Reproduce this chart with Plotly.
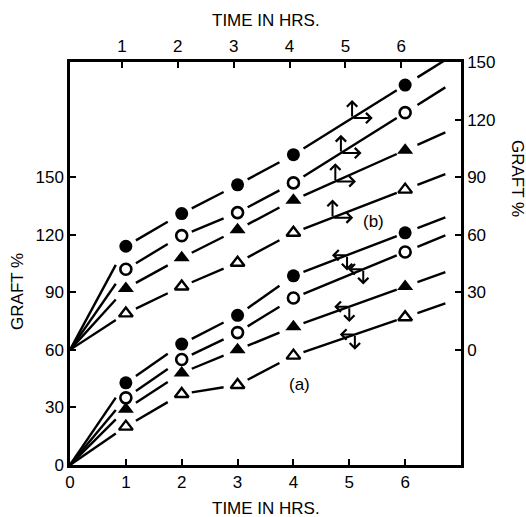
import numpy as np
import plotly.graph_objects as go

# ---------------- data ----------------
hours = [0, 1, 2, 3, 4, 6]
bottom_ticks = [0, 1, 2, 3, 4, 5, 6]
top_ticks = [1, 2, 3, 4, 5, 6]
left_ticks = [0, 30, 60, 90, 120, 150]
right_ticks = [0, 30, 60, 90, 120, 150]

# curve set (a): read on left axis (GRAFT %) vs bottom axis
a_filled_circle = [0, 42.8, 63, 78, 98.6, 121]
a_open_circle = [0, 35, 55, 69, 87, 111]
a_filled_tri = [0, 29, 48, 60, 72, 93]
a_open_tri = [0, 20, 37, 41.7, 57, 77]

# curve set (b): read on right axis (GRAFT %) vs top axis
b_filled_circle = [0, 54, 71, 86, 101.7, 138]
b_open_circle = [0, 42, 59.5, 71.5, 87, 123.6]
b_filled_tri = [0, 32, 48, 62.6, 78, 104]
b_open_tri = [0, 19, 33, 45.4, 61, 83.5]

# where the axis-direction arrow glyphs sit along each curve (hours)
glyph_a_t = [4.96, 5.25, 5.0, 5.1]
glyph_b_t = [5.05, 4.85, 4.75, 4.7]

# ---------------- helpers ----------------
def dash_segments(t, v):
    xs, ys = [], []
    for i in range(len(t) - 1):
        t0, t1 = t[i], t[i + 1]
        span = t1 - t0
        start = t0 if i == 0 else t0 + 0.18
        if i == 0:
            end = t1 - 0.18
        elif span == 1:
            end = t1 - 0.25
        else:
            end = t1 - 0.15
        for tt in (start, end):
            xs.append(tt)
            ys.append(v[i] + (v[i + 1] - v[i]) * (tt - t0) / span)
        xs.append(None)
        ys.append(None)
    slope = (v[-1] - v[-2]) / (t[-1] - t[-2])
    for tt in (t[-1] + 0.22, t[-1] + 0.72):
        xs.append(tt)
        ys.append(v[-1] + slope * (tt - t[-1]))
    return xs, ys


styles = [
    dict(symbol="circle", size=13, color="black", line=dict(width=0)),
    dict(symbol="circle-open", size=11, color="black", line=dict(width=2.6, color="black")),
    dict(symbol="triangle-up", size=14, color="black", line=dict(width=0)),
    dict(symbol="triangle-up-open", size=12, color="black", line=dict(width=2.4, color="black")),
]

FONT = "Liberation Sans, Arial, Helvetica, sans-serif"
fig = go.Figure()

set_a = [a_filled_circle, a_open_circle, a_filled_tri, a_open_tri]
set_b = [b_filled_circle, b_open_circle, b_filled_tri, b_open_tri]

for series, st in zip(set_a, styles):
    xs, ys = dash_segments(hours, series)
    fig.add_trace(go.Scatter(x=xs, y=ys, mode="lines", line=dict(color="black", width=2.4),
                             xaxis="x", yaxis="y", showlegend=False, hoverinfo="skip"))
    fig.add_trace(go.Scatter(x=hours[1:], y=series[1:], mode="markers", marker=st,
                             xaxis="x", yaxis="y", showlegend=False))

for series, st in zip(set_b, styles):
    xs, ys = dash_segments(hours, series)
    fig.add_trace(go.Scatter(x=xs, y=ys, mode="lines", line=dict(color="black", width=2.4),
                             xaxis="x", yaxis="y2", showlegend=False, hoverinfo="skip"))
    fig.add_trace(go.Scatter(x=hours[1:], y=series[1:], mode="markers", marker=st,
                             xaxis="x", yaxis="y2", showlegend=False))

# invisible trace so the top time axis is drawn
fig.add_trace(go.Scatter(x=hours[1:], y=b_filled_circle[1:], mode="markers",
                         marker=dict(opacity=0), xaxis="x2", yaxis="y2",
                         showlegend=False, hoverinfo="skip"))

annotations = []
ARW = dict(showarrow=True, arrowhead=4, arrowsize=1.0, arrowwidth=2, arrowcolor="black", text="")

# (b) curves: up arrow (top axis) + right arrow (right axis)
for series, tg in zip(set_b, glyph_b_t):
    yc = float(np.interp(tg, hours, series))
    annotations.append(dict(x=tg, y=yc + 9.5, ax=tg, ay=yc, xref="x", yref="y2",
                            axref="x", ayref="y2", **ARW))
    annotations.append(dict(x=tg + 0.37, y=yc, ax=tg, ay=yc, xref="x", yref="y2",
                            axref="x", ayref="y2", **ARW))

# (a) curves: left arrow (left axis) + down arrow (bottom axis)
for series, tg in zip(set_a, glyph_a_t):
    yc = float(np.interp(tg, hours, series))
    annotations.append(dict(x=tg - 0.27, y=yc, ax=tg, ay=yc, xref="x", yref="y",
                            axref="x", ayref="y", **ARW))
    annotations.append(dict(x=tg, y=yc - 8, ax=tg, ay=yc, xref="x", yref="y",
                            axref="x", ayref="y", **ARW))

TXT = dict(showarrow=False, xanchor="center", yanchor="middle",
           font=dict(family=FONT, size=17, color="black"))
annotations += [
    dict(x=4.1, y=41.7, xref="x", yref="y", text="(a)", **TXT),
    dict(x=5.43, y=67, xref="x", yref="y2", text="(b)", **TXT),
    dict(x=0.501, y=-0.107, xref="paper", yref="paper", text="TIME IN HRS.", **TXT),
    dict(x=0.501, y=1.102, xref="paper", yref="paper", text="TIME IN HRS.", **TXT),
    dict(x=-0.133, y=0.432, xref="paper", yref="paper", text="GRAFT %", textangle=-90, **TXT),
    dict(x=1.146, y=0.712, xref="paper", yref="paper", text="GRAFT %", textangle=90, **TXT),
]

AX = dict(showgrid=False, zeroline=False, showline=True, linecolor="black", linewidth=2.5,
          ticks="inside", ticklen=6, tickwidth=2, tickcolor="black",
          tickfont=dict(family=FONT, size=17, color="black"))

fig.update_layout(
    width=526, height=517,
    margin=dict(l=70, r=65, t=62, b=52),
    paper_bgcolor="white", plot_bgcolor="white",
    font=dict(family=FONT, color="black"),
    xaxis=dict(range=[0, 7], tickvals=bottom_ticks, side="bottom", **AX),
    xaxis2=dict(range=[0.07, 7.07], tickvals=top_ticks, side="top", overlaying="x",
                anchor="y", **AX),
    yaxis=dict(range=[0, 210], tickvals=left_ticks, side="left", **AX),
    yaxis2=dict(range=[-60, 150], tickvals=right_ticks, side="right", overlaying="y",
                anchor="x", **AX),
    annotations=annotations,
)

fig.write_html("out.html", config={"displayModeBar": False},
               post_script="document.body.style.margin='0';")
